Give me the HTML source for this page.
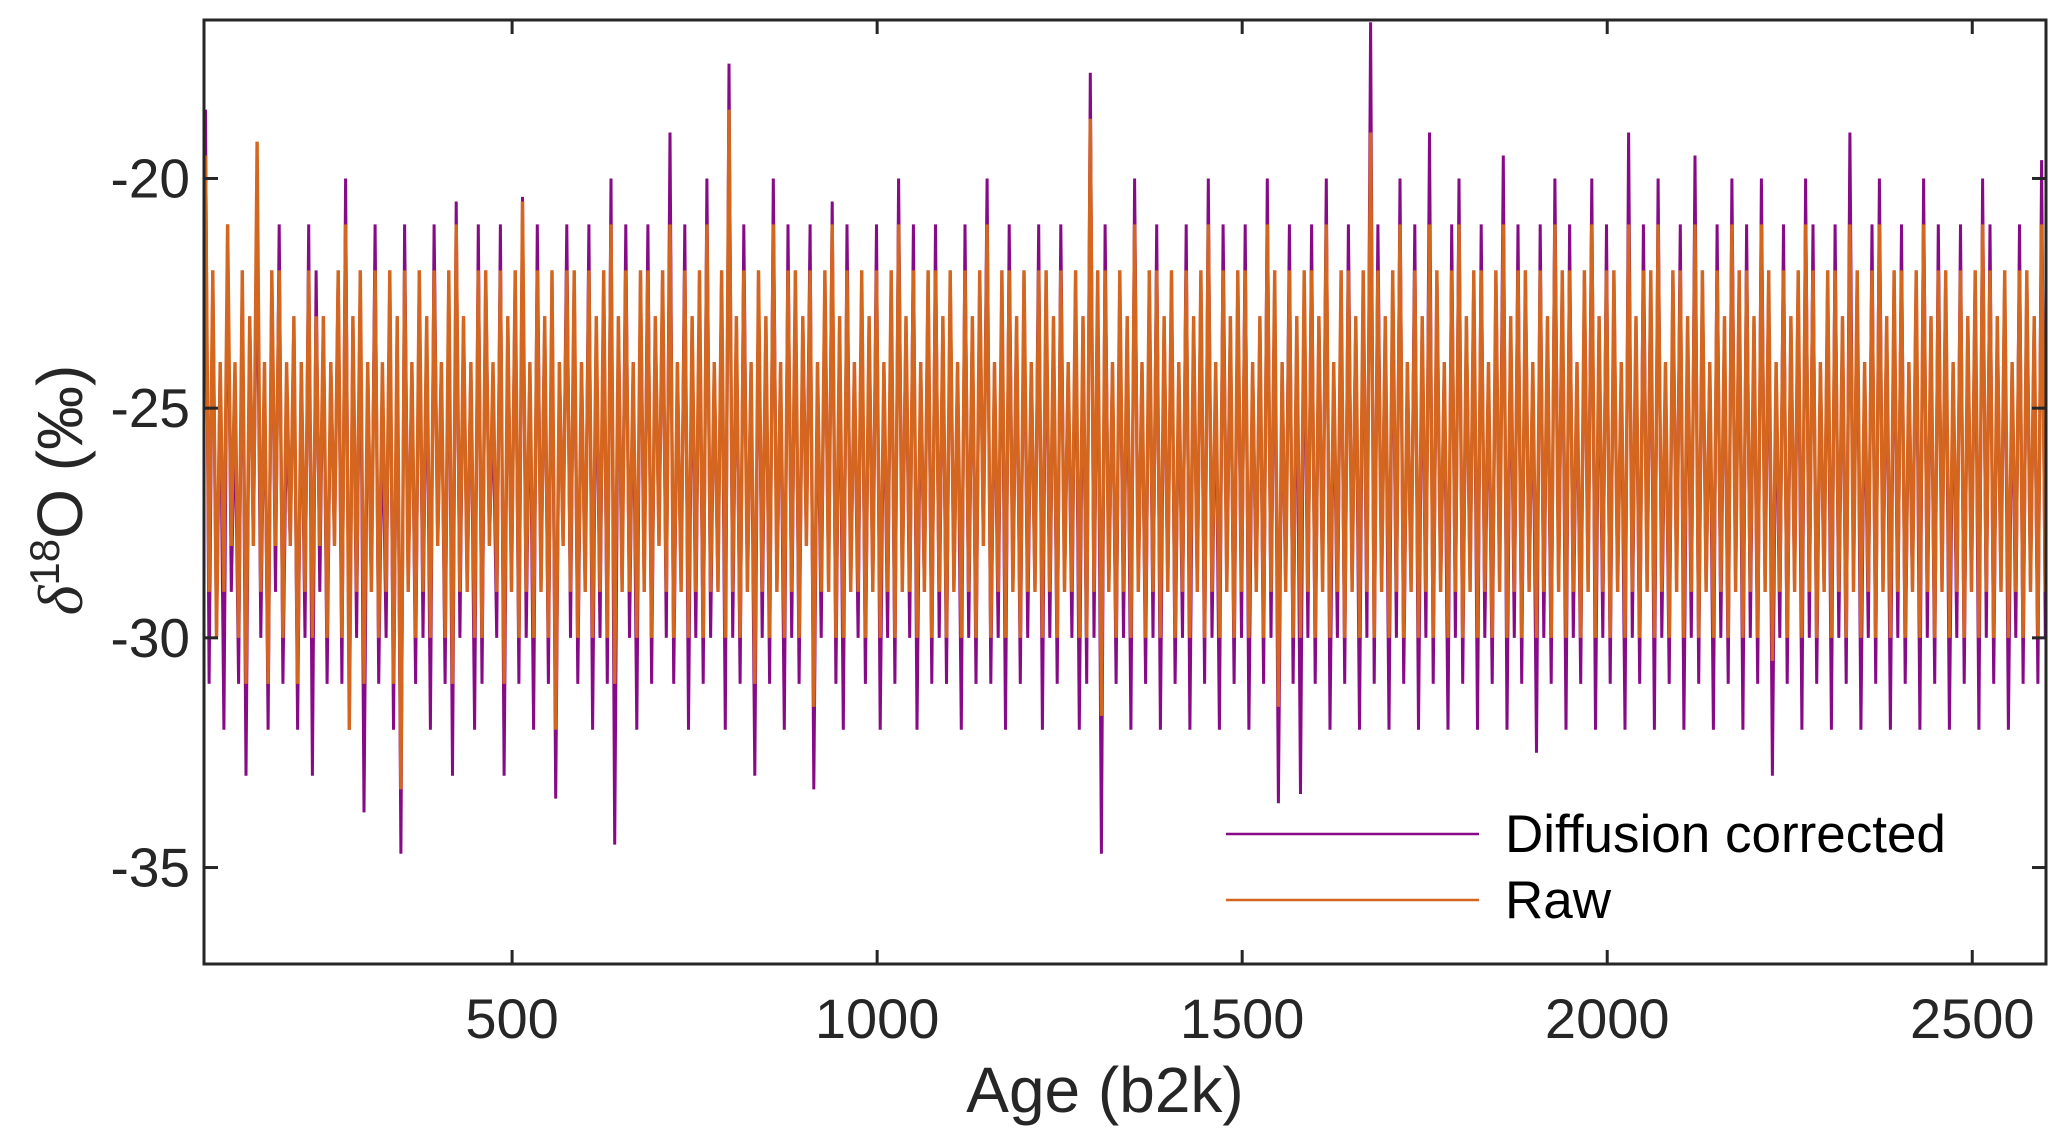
<!DOCTYPE html>
<html><head><meta charset="utf-8"><style>
html,body{margin:0;padding:0;background:#fff;}
svg{display:block;font-family:"Liberation Sans",Arial,sans-serif;}
</style></head><body>
<svg id="chart" width="2067" height="1148" viewBox="0 0 2067 1148" xmlns="http://www.w3.org/2000/svg" style="position:absolute;left:0;top:0">
<g id="plot"></g>
<g id="axes"></g>
</svg>
<script>
const xTicks = [500, 1000, 1500, 2000, 2500];
const yTicks = [-20, -25, -30, -35];
const xDomain = [78, 2601];
const yDomain = [-37.1, -16.55];
const corrected = [
-18.5,-31,-22,-30,-24,-32,-21,-29,-25,-31,-22,-33,-23,-28,-21,-30,-24,-32,-22,-29,
-21,-31,-25,-28,-23,-32,-24,-30,-21,-33,-22,-29,-23,-31,-24,-28,-22,-31,-20,-32,
-23,-30,-22,-33.8,-24,-29,-21,-31,-25,-30,-22,-32,-23,-34.7,-21,-29,-24,-31,-22,-30,
-23,-32,-21,-28,-24,-31,-22,-33,-20.5,-30,-23,-29,-24,-32,-21,-31,-22,-28,-25,-30,
-21,-33,-23,-29,-22,-31,-20.4,-30,-24,-32,-21,-29,-23,-31,-22,-33.5,-24,-28,-21,-30,
-22,-31,-24,-29,-21,-32,-23,-30,-22,-31,-20,-34.5,-23,-29,-21,-30,-24,-32,-22,-29,
-21,-31,-23,-28,-22,-30,-19,-31,-24,-29,-21,-32,-23,-30,-22,-31,-20,-30,-24,-29,
-22,-32,-17.5,-30,-23,-31,-21,-29,-24,-33,-22,-30,-23,-31,-20,-29,-24,-32,-21,-30,
-22,-31,-23,-28,-21,-33.3,-24,-30,-22,-29,-20.5,-31,-23,-32,-21,-29,-24,-30,-22,-31,
-23,-29,-21,-32,-24,-30,-22,-31,-20,-29,-23,-30,-21,-32,-24,-29,-22,-31,-21,-30,
-23,-31,-22,-29,-24,-32,-21,-30,-23,-31,-22,-28,-20,-31,-24,-30,-22,-32,-21,-29,
-23,-31,-22,-30,-24,-29,-21,-32,-22,-30,-23,-31,-21,-29,-24,-30,-22,-32,-23,-31,
-17.7,-30,-22,-34.7,-21,-29,-24,-31,-22,-30,-23,-32,-20,-29,-24,-31,-22,-30,-21,-32,
-23,-29,-22,-31,-24,-30,-21,-32,-23,-29,-22,-31,-20,-30,-24,-32,-21,-29,-23,-31,
-22,-30,-21,-32,-24,-29,-23,-31,-20,-30,-22,-33.6,-24,-29,-21,-31,-23,-33.4,-22,-30,
-21,-31,-23,-29,-20,-32,-24,-30,-22,-31,-21,-29,-23,-32,-22,-30,-16.6,-31,-21,-29,
-23,-32,-22,-30,-20,-31,-24,-29,-21,-32,-23,-30,-19,-31,-22,-29,-24,-32,-21,-30,
-20,-31,-23,-29,-22,-32,-21,-30,-24,-31,-22,-29,-19.5,-32,-23,-30,-21,-31,-22,-29,
-24,-32.5,-21,-30,-23,-31,-20,-29,-22,-32,-21,-30,-24,-31,-22,-29,-20,-32,-23,-30,
-21,-31,-22,-29,-24,-32,-19,-30,-23,-31,-21,-29,-22,-32,-20,-30,-24,-31,-22,-29,
-21,-32,-23,-30,-19.5,-31,-22,-29,-24,-32,-21,-30,-23,-31,-20,-29,-22,-32,-21,-30,
-23,-31,-20,-29,-22,-33,-24,-30,-21,-31,-23,-29,-22,-32,-20,-30,-21,-31,-24,-29,
-22,-32,-21,-30,-23,-31,-19,-29,-22,-32,-24,-30,-21,-31,-20,-29,-23,-32,-22,-30,
-21,-31,-24,-29,-22,-32,-20,-30,-23,-31,-21,-29,-22,-32,-24,-30,-21,-31,-23,-29,
-22,-32,-20,-30,-21,-31,-23,-29,-22,-32,-24,-30,-21,-31,-22,-29,-23,-31,-19.6,-30];
const raw = [
-19.5,-29,-22,-30,-24,-29,-21,-28,-24,-30,-22,-31,-23,-28,-19.2,-29,-24,-31,-22,-28,
-22,-30,-24,-28,-23,-31,-24,-29,-22,-30,-23,-28,-23,-30,-24,-28,-22,-30,-21,-32,
-23,-29,-22,-31,-24,-29,-22,-30,-24,-29,-22,-31,-23,-33.3,-22,-29,-24,-30,-22,-29,
-23,-30,-22,-28,-24,-30,-22,-31,-21,-29,-23,-29,-24,-30,-22,-30,-22,-28,-24,-29,
-22,-31,-23,-29,-22,-30,-20.5,-29,-24,-30,-22,-29,-23,-30,-22,-32,-24,-28,-22,-29,
-22,-30,-24,-29,-22,-30,-23,-29,-22,-30,-21,-31,-23,-29,-22,-29,-24,-30,-22,-29,
-22,-30,-23,-28,-22,-29,-21,-30,-24,-29,-22,-30,-23,-29,-22,-30,-21,-29,-24,-29,
-22,-30,-18.5,-29,-23,-30,-22,-29,-24,-31,-22,-29,-23,-30,-21,-29,-24,-30,-22,-29,
-22,-30,-23,-28,-22,-31.5,-24,-29,-22,-29,-21,-30,-23,-30,-22,-29,-24,-29,-22,-30,
-23,-29,-22,-30,-24,-29,-22,-30,-21,-29,-23,-29,-22,-30,-24,-29,-22,-30,-22,-29,
-23,-30,-22,-29,-24,-30,-22,-29,-23,-30,-22,-28,-21,-30,-24,-29,-22,-30,-22,-29,
-23,-30,-22,-29,-24,-29,-22,-30,-22,-29,-23,-30,-22,-29,-24,-29,-22,-30,-23,-30,
-18.7,-29,-22,-31.7,-22,-29,-24,-30,-22,-29,-23,-30,-21,-29,-24,-30,-22,-29,-22,-30,
-23,-29,-22,-30,-24,-29,-22,-30,-23,-29,-22,-30,-21,-29,-24,-30,-22,-29,-23,-30,
-22,-29,-22,-30,-24,-29,-23,-30,-21,-29,-22,-31.5,-24,-29,-22,-30,-23,-30,-22,-29,
-22,-30,-23,-29,-21,-30,-24,-29,-22,-30,-22,-29,-23,-30,-22,-29,-19,-30,-22,-29,
-23,-30,-22,-29,-21,-30,-24,-29,-22,-30,-23,-29,-21,-30,-22,-29,-24,-30,-22,-29,
-21,-30,-23,-29,-22,-30,-22,-29,-24,-30,-22,-29,-21,-30,-23,-29,-22,-30,-22,-29,
-24,-30,-22,-29,-23,-30,-21,-29,-22,-30,-22,-29,-24,-30,-22,-29,-21,-30,-23,-29,
-22,-30,-22,-29,-24,-30,-21,-29,-23,-30,-22,-29,-22,-30,-21,-29,-24,-30,-22,-29,
-22,-30,-23,-29,-21,-30,-22,-29,-24,-30,-22,-29,-23,-30,-21,-29,-22,-30,-22,-29,
-23,-30,-21,-29,-22,-30.5,-24,-29,-22,-30,-23,-29,-22,-30,-21,-29,-22,-30,-24,-29,
-22,-30,-22,-29,-23,-30,-21,-29,-22,-30,-24,-29,-22,-30,-21,-29,-23,-30,-22,-29,
-22,-30,-24,-29,-22,-30,-21,-29,-23,-30,-22,-29,-22,-30,-24,-29,-22,-30,-23,-29,
-22,-30,-21,-29,-22,-30,-23,-29,-22,-30,-24,-29,-22,-30,-22,-29,-23,-30,-21,-29];

const L=204,R=2046,T=20,B=964;
const sx=v=>L+(v-xDomain[0])/(xDomain[1]-xDomain[0])*(R-L);
const sy=v=>T+(yDomain[1]-v)/(yDomain[1]-yDomain[0])*(B-T);
const NS='http://www.w3.org/2000/svg';
const plot=document.getElementById('plot'), axes=document.getElementById('axes');
function mk(tag,attrs,parent){const e=document.createElementNS(NS,tag);for(const k in attrs)e.setAttribute(k,attrs[k]);parent.appendChild(e);return e;}
const clip=mk('clipPath',{id:'cp'},plot);mk('rect',{x:L,y:T,width:R-L,height:B-T},clip);
function series(vals,color,name,w){
  const step=(2600-80)/(vals.length-1);
  const d=vals.map((v,i)=>(i?'L':'M')+sx(80+i*step).toFixed(1)+','+sy(v).toFixed(1)).join('');
  const p=mk('path',{d:d,fill:'none',stroke:color,'stroke-width':w,'clip-path':'url(#cp)','stroke-linejoin':'bevel'},plot);
  
  
}
series(corrected,'#870a87','series-diffusion-corrected',3);
series(raw,'#d4661f','series-raw',3.4);

mk('rect',{x:L,y:T,width:R-L,height:B-T,fill:'none',stroke:'#262626','stroke-width':3},axes);
xTicks.forEach(t=>{
  const x=sx(t);
  mk('line',{x1:x,y1:B,x2:x,y2:B-14,stroke:'#262626','stroke-width':3},axes);
  mk('line',{x1:x,y1:T,x2:x,y2:T+14,stroke:'#262626','stroke-width':3},axes);
  const tx=mk('text',{x:x,y:1038,'text-anchor':'middle','font-size':56,fill:'#262626'},axes);
  tx.textContent=t;
  
  
});
yTicks.forEach(t=>{
  const y=sy(t);
  mk('line',{x1:L,y1:y,x2:L+14,y2:y,stroke:'#262626','stroke-width':3},axes);
  mk('line',{x1:R,y1:y,x2:R-14,y2:y,stroke:'#262626','stroke-width':3},axes);
  const tx=mk('text',{x:190,y:y+19,'text-anchor':'end','font-size':55,fill:'#262626'},axes);
  tx.textContent=t;
  
  
});
</script>
<svg style="position:absolute;left:0;top:0" width="2067" height="1148">
<text x="1105" y="1112" text-anchor="middle" font-size="64" fill="#262626" font-family="Liberation Sans, sans-serif">Age (b2k)</text>
<text transform="translate(82,490) rotate(-90)" text-anchor="middle" font-size="64" fill="#262626" font-family="Liberation Sans, sans-serif"><tspan font-style="italic" font-family="Liberation Serif, serif">δ</tspan><tspan baseline-shift="super" font-size="42">18</tspan>O (‰)</text>
<g>
<line x1="1226" y1="834" x2="1479" y2="834" stroke="#870a87" stroke-width="2.5"/>
<text x="1505" y="852" font-size="53" fill="#000" font-family="Liberation Sans, sans-serif">Diffusion corrected</text>
<line x1="1226" y1="900" x2="1479" y2="900" stroke="#d4661f" stroke-width="2.5"/>
<text x="1505" y="918" font-size="53" fill="#000" font-family="Liberation Sans, sans-serif">Raw</text>
</g>
</svg>
</body></html>
